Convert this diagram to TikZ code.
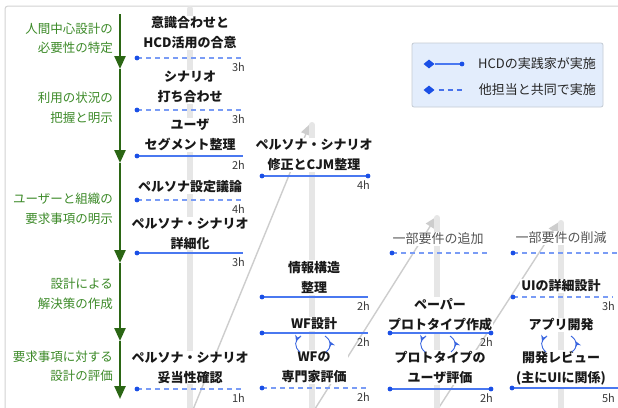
\documentclass[tikz,border=0pt]{standalone}
\usepackage{fontspec}
\setmainfont{Noto Sans CJK JP}
\usetikzlibrary{arrows.meta,decorations.markings,shapes.geometric,calc}
\definecolor{lnblue}{HTML}{4A78F0}
\definecolor{lnblue2}{HTML}{7A9CF5}
\definecolor{dotblue}{HTML}{1A4FE6}
\definecolor{grnline}{HTML}{2B6614}
\definecolor{grntext}{HTML}{3C8A28}
\definecolor{barg}{HTML}{E6E6E6}
\definecolor{diagg}{HTML}{CDCDCD}
\definecolor{legfill}{HTML}{E3EDFC}
\definecolor{legdraw}{HTML}{C4CBD4}
\definecolor{arrblue}{HTML}{3A66E0}
\definecolor{txtgray}{HTML}{555555}
\definecolor{hrsgray}{HTML}{3A3A3A}
\definecolor{bordg}{HTML}{D2D2D2}

\tikzset{
  tasknode/.style={font=\fontsize{13}{20}\selectfont\bfseries, align=center, fill=white, inner sep=1pt, text=black!90},
  addnode/.style={font=\fontsize{13}{20}\selectfont, align=center, fill=white, inner sep=1pt, text=txtgray},
  grnlabel/.style={font=\fontsize{12.5}{19.5}\selectfont, align=right, anchor=east, text=grntext, inner sep=0pt},
  hrs/.style={font=\fontsize{11}{11}\selectfont, text=hrsgray, anchor=east, inner sep=0pt},
  solidln/.style={draw=lnblue, line width=1.1pt},
  dashln/.style={draw=lnblue2, line width=1.1pt, dash pattern=on 5pt off 4pt},
  barline/.style={draw=barg, line width=6pt, line cap=round},
  diagline/.style={draw=diagg, line width=1.4pt, -{Triangle[width=10pt,length=11pt]}},
  grnarrow/.style={draw=grnline, line width=2.4pt, -{Triangle[width=11pt,length=13pt]}},
  cycarr/.style={draw=arrblue, line width=0.9pt},
  legtext/.style={font=\fontsize{13}{13}\selectfont, text=black!85, anchor=east, inner sep=0pt}
}

% task line: name, x1, x2, y, style
\newcommand\tline[5]{%
  \coordinate (#1L) at (#2,#4);
  \coordinate (#1R) at (#3,#4);
  \draw[#5] (#1L) -- (#1R);
  \fill[dotblue] (#1L) circle (2.4pt);}
\newcommand\rdot[1]{\fill[dotblue] (#1R) circle (2.4pt);}
% hours label: name, text
\newcommand\hlabel[2]{\node[hrs] (#1h) at ($(#1R)+(2,9.5)$) {#2};}
% cycle arrows: name, center x
\newcommand\cycpair[2]{%
  \coordinate (#1a) at ({#2-13},336);
  \coordinate (#1b) at ({#2-14},352);
  \coordinate (#1c) at ({#2+12},352);
  \coordinate (#1d) at ({#2+11},336);
  \draw[cycarr, postaction={decorate}, decoration={markings, mark=at position 0.38 with {\arrow{Stealth[length=6pt,width=6pt]}}}]
    (#1a) .. controls ({#2-20},340) and ({#2-20},347) .. (#1b);
  \draw[cycarr, postaction={decorate}, decoration={markings, mark=at position 0.64 with {\arrow{Stealth[length=6pt,width=6pt]}}}]
    (#1c) .. controls ({#2+18},347) and ({#2+18},341) .. (#1d);}

\begin{document}
\begin{tikzpicture}[x=1pt,y=-1pt]
\useasboundingbox (0,0) rectangle (618,407);
\clip (0,0) rectangle (618,407);
\fill[white] (0,0) rectangle (618,407);
\draw[bordg, line width=1pt, rounded corners=3pt] (5,6) rectangle (660,440);

% diagonal flow lines
\coordinate (d1s) at (192,412); \coordinate (d1e) at (310,124);
\coordinate (d2s) at (313,412); \coordinate (d2e) at (436,217);
\coordinate (d3s) at (436,412); \coordinate (d3e) at (559,222);
\draw[diagline] (d1s) -- (d1e);
\draw[diagline] (d2s) -- (d2e);
\draw[diagline] (d3s) -- (d3e);

% vertical bars
\coordinate (b1t) at (190,9);   \coordinate (b1b) at (190,420);
\coordinate (b2t) at (312,125); \coordinate (b2b) at (312,420);
\coordinate (b3t) at (437,218); \coordinate (b3b) at (437,420);
\coordinate (b4t) at (561,223); \coordinate (b4b) at (561,420);
\draw[barline] (b1t) -- (b1b);
\draw[barline] (b2t) -- (b2b);
\draw[barline] (b3t) -- (b3b);
\draw[barline] (b4t) -- (b4b);

% green timeline
\coordinate (g0) at (120,14);
\coordinate (g1) at (120,69);
\coordinate (g2) at (120,163);
\coordinate (g3) at (120,263);
\coordinate (g4) at (120,341);
\coordinate (g5) at (120,399);
\draw[grnarrow] (g0) -- (g1);
\draw[grnarrow] (g1) -- (g2);
\draw[grnarrow] (g2) -- (g3);
\draw[grnarrow] (g3) -- (g4);
\draw[grnarrow] (g4) -- (g5);
\node[grnlabel] (p1) at (113,38.5) {人間中心設計の\\必要性の特定};
\node[grnlabel] (p2) at (113,108) {利用の状況の\\把握と明示};
\node[grnlabel] (p3) at (113,209) {ユーザーと組織の\\要求事項の明示};
\node[grnlabel] (p4) at (113,294) {設計による\\解決策の作成};
\node[grnlabel] (p5) at (113,366) {要求事項に対する\\設計の評価};

% column 1
\node[tasknode] (t1) at (190,33) {意識合わせと\\HCD活用の合意};
\node[tasknode] (t2) at (190,87) {シナリオ\\打ち合わせ};
\node[tasknode] (t3) at (190,135) {ユーザ\\セグメント整理};
\node[tasknode] (t4) at (190,187) {ペルソナ設定議論};
\node[tasknode] (t5) at (190,233.5) {ペルソナ・シナリオ\\詳細化};
\node[tasknode] (t6) at (190,367.5) {ペルソナ・シナリオ\\妥当性確認};
% column 2
\node[tasknode] (t7) at (314,155) {ペルソナ・シナリオ\\修正とCJM整理};
\node[tasknode] (t8) at (314,277.5) {情報構造\\整理};
\node[tasknode] (t9) at (314,324) {WF設計};
\node[tasknode] (t10) at (314,367) {WFの\\専門家評価};
% column 3
\node[addnode] (a1) at (438,239) {一部要件の追加};
\node[tasknode] (t11) at (440,314.5) {ペーパー\\プロトタイプ作成};
\node[tasknode] (t12) at (440,367.5) {プロトタイプの\\ユーザ評価};
% column 4
\node[addnode] (a2) at (561,238) {一部要件の削減};
\node[tasknode] (t13) at (561,286) {UIの詳細設計};
\node[tasknode] (t14) at (561,325) {アプリ開発};
\node[tasknode] (t15) at (561,368.5) {開発レビュー\\(主にUIに関係)};

% task lines column 1
\tline{l1}{137}{243}{58}{dashln}   \hlabel{l1}{3h}
\tline{l2}{137}{243}{110}{dashln}  \hlabel{l2}{3h}
\tline{l3}{137}{243}{156}{solidln} \hlabel{l3}{2h}
\tline{l4}{137}{243}{200}{dashln}  \hlabel{l4}{4h}
\tline{l5}{137}{243}{253}{solidln} \hlabel{l5}{3h}
\tline{l6}{137}{243}{389}{dashln}  \hlabel{l6}{1h}
% column 2
\tline{l7}{262}{368}{176}{solidln} \rdot{l7} \hlabel{l7}{4h}
\tline{l8}{262}{368}{297}{solidln} \hlabel{l8}{2h}
\tline{l9}{262}{368}{333}{solidln} \hlabel{l9}{2h}
\tline{l10}{262}{368}{388}{dashln} \hlabel{l10}{2h}
% column 3
\tline{l11}{392}{488}{253}{dashln}
\tline{l12}{390}{491}{333}{solidln} \rdot{l12} \hlabel{l12}{2h}
\tline{l13}{390}{491}{389}{solidln} \rdot{l13} \hlabel{l13}{2h}
% column 4
\tline{l14}{513}{618}{253}{dashln}
\tline{l15}{513}{613}{297}{dashln} \hlabel{l15}{3h}
\tline{l16}{512}{620}{388}{solidln}
\node[hrs] (l16h) at (615,398) {5h};

% cycle arrows
\cycpair{c2}{314}
\cycpair{c3}{439}
\cycpair{c4}{560}

% legend
\node[draw=legdraw, fill=legfill, rounded corners=2pt, line width=0.8pt, minimum width=191pt, minimum height=64pt, inner sep=0pt] (leg) at (507.5,75) {};
\node[diamond, fill=dotblue, minimum width=11pt, minimum height=9pt, inner sep=0pt] (ld1) at (429,64) {};
\coordinate (le1) at (462,64);
\draw[solidln] (ld1) -- (le1);
\fill[dotblue] (le1) circle (2.4pt);
\node[legtext] (lt1) at (596,64) {HCDの実践家が実施};
\node[diamond, fill=dotblue, minimum width=11pt, minimum height=9pt, inner sep=0pt] (ld2) at (429,90) {};
\coordinate (le2) at (463,90);
\draw[draw=dotblue!80, line width=1.1pt, dash pattern=on 5pt off 4pt, dash phase=-4pt] (ld2) -- (le2);
\node[legtext] (lt2) at (596,90) {他担当と共同で実施};
\end{tikzpicture}
\end{document}
